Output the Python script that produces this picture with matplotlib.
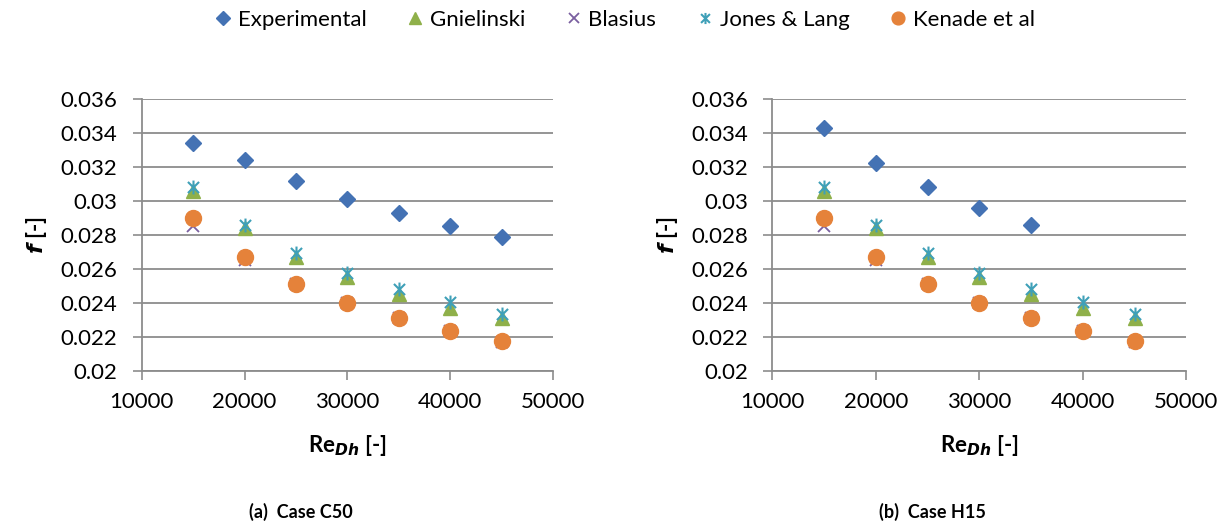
import matplotlib
matplotlib.use("Agg")
import matplotlib.pyplot as plt
from matplotlib.path import Path

plt.rcParams["font.family"] = ["Lato", "DejaVu Sans"]

re_dh = [15000, 20000, 25000, 30000, 35000, 40000, 45000]

# case C50
exp_c50 = [0.0334, 0.0324, 0.0312, 0.0301, 0.0293, 0.02855, 0.0279]
# case H15 (only five measured points)
re_h15 = [15000, 20000, 25000, 30000, 35000]
exp_h15 = [0.0343, 0.03225, 0.0308, 0.0296, 0.0286]

# correlations (same in both panels)
gnielinski = [0.0306, 0.0284, 0.0267, 0.0255, 0.0245, 0.0237, 0.0231]
blasius = [0.02855, 0.02655, 0.02513, 0.02401, 0.0231, 0.02234, 0.0217]
jones_lang = [0.0308, 0.02856, 0.02693, 0.02574, 0.02482, 0.02403, 0.02335]
kenade = [0.0290, 0.02673, 0.02512, 0.02397, 0.02309, 0.02236, 0.02173]

x_ticks = [10000, 20000, 30000, 40000, 50000]
y_ticks = [0.02, 0.022, 0.024, 0.026, 0.028, 0.03, 0.032, 0.034, 0.036]
y_labels = ["0.02", "0.022", "0.024", "0.026", "0.028", "0.03", "0.032", "0.034", "0.036"]

panels = [("(a)  Case C50", re_dh, exp_c50), ("(b)  Case H15", re_h15, exp_h15)]

BLUE = "#4472B4"
GREEN = "#8FB04A"
PURPLE = "#7A5FA0"
AQUA = "#3FA0B8"
ORANGE = "#E5823A"
GRID = "#8C8C8C"

# Excel style "star" marker: x with a vertical bar
star = Path(
    [(-1, -1), (1, 1), (-1, 1), (1, -1), (0, -1.25), (0, 1.25)],
    [Path.MOVETO, Path.LINETO, Path.MOVETO, Path.LINETO, Path.MOVETO, Path.LINETO],
)

fig = plt.figure(figsize=(12.32, 5.28), dpi=100)
axes_pos = [[0.115, 0.298, 0.334, 0.514], [0.627, 0.298, 0.336, 0.514]]

handles = None
for pos, (caption, x_exp, y_exp) in zip(axes_pos, panels):
    ax = fig.add_axes(pos)
    h1, = ax.plot(x_exp, y_exp, ls="none", marker="D", ms=8.5, color=BLUE,
                  label="Experimental", zorder=3)
    h2, = ax.plot(re_dh, gnielinski, ls="none", marker="^", ms=10, color=GREEN,
                  label="Gnielinski", zorder=3)
    h3, = ax.plot(re_dh, blasius, ls="none", marker="x", ms=9, mew=1.3,
                  color=PURPLE, label="Blasius", zorder=3)
    h4, = ax.plot(re_dh, jones_lang, ls="none", marker=star, ms=10, mew=1.5,
                  mfc="none", color=AQUA, label="Jones & Lang", zorder=4)
    h5, = ax.plot(re_dh, kenade, ls="none", marker="o", ms=11.5, color=ORANGE,
                  label="Kenade et al", zorder=5)
    handles = [h1, h2, h3, h4, h5]

    ax.set_xlim(10000, 50000)
    ax.set_ylim(0.02, 0.036)
    ax.set_xticks(x_ticks)
    ax.set_xticklabels([str(t) for t in x_ticks])
    ax.set_yticks(y_ticks)
    ax.set_yticklabels(y_labels)
    ax.tick_params(labelsize=16, length=6.5, width=1.2, color=GRID)
    ax.tick_params(axis="x", pad=9)
    ax.tick_params(axis="y", pad=11)
    ax.grid(axis="y", color=GRID, lw=1.3)
    ax.set_axisbelow(True)
    for side in ["top", "right"]:
        ax.spines[side].set_visible(False)
    for side in ["left", "bottom"]:
        ax.spines[side].set_color(GRID)
        ax.spines[side].set_linewidth(1.3)

    ax.set_xlabel(r"Re$_{\boldsymbol{Dh}}$ [-]", fontsize=16, fontweight="bold",
                  labelpad=15)
    ax.set_ylabel(r"$\boldsymbol{f}$ [-]", fontsize=16, fontweight="bold",
                  labelpad=8)
    cx = pos[0] + pos[2] / 2
    fig.text(cx - 0.038, 0.03, caption, ha="center", va="center", fontsize=13,
             fontweight="bold")

fig.legend(handles=handles, loc="center", bbox_to_anchor=(0.505, 0.962),
           ncol=5, frameon=False, fontsize=16, handletextpad=0.05,
           columnspacing=1.6, handlelength=1.2, markerscale=0.8)

fig.savefig("out.png", dpi=100)
